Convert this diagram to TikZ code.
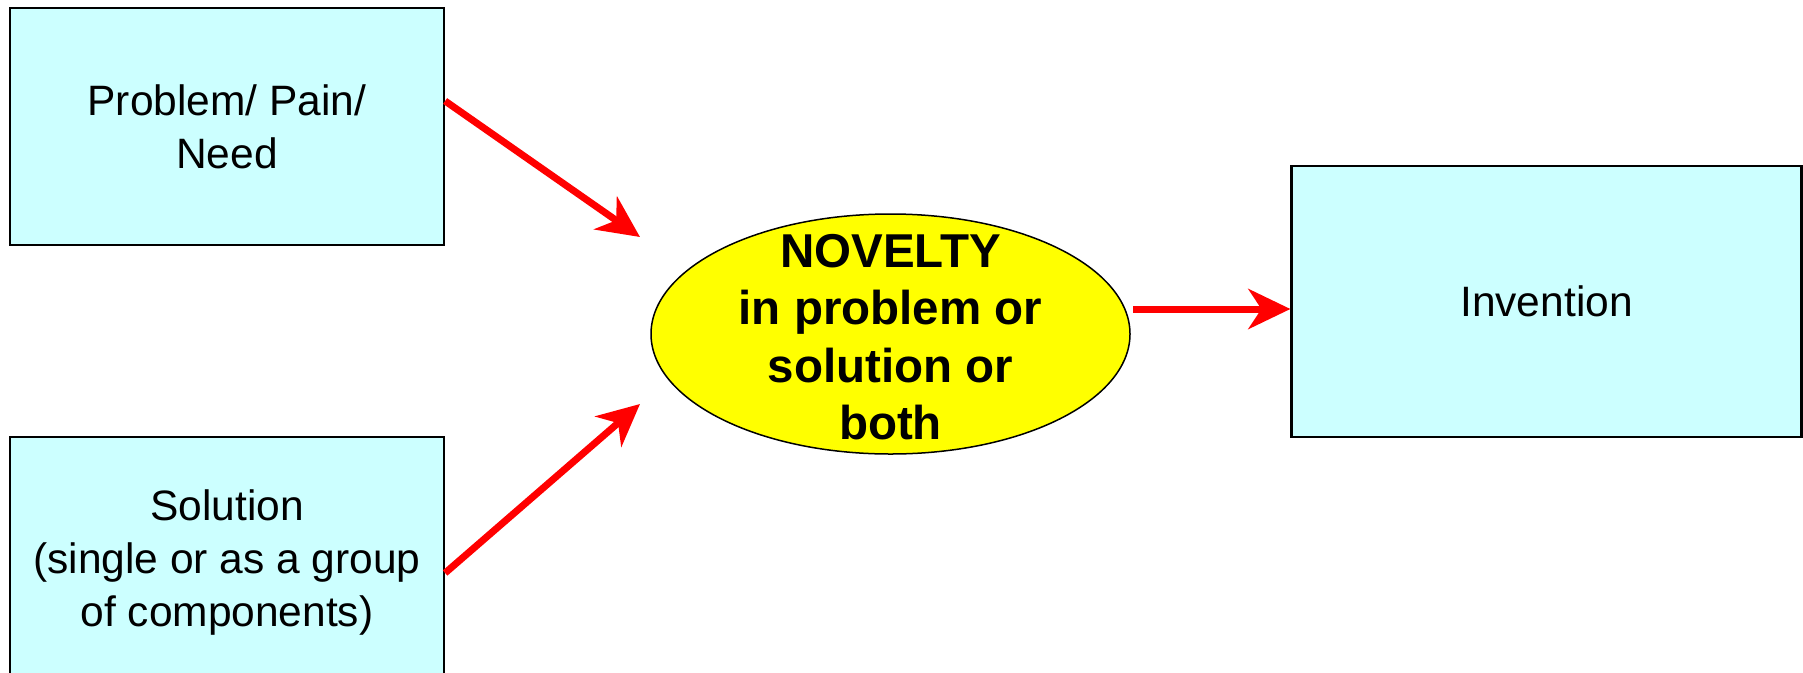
\documentclass[tikz,border=0pt]{standalone}
\usepackage{fontspec}
\setmainfont{Liberation Sans}
\usetikzlibrary{arrows.meta,shapes.geometric,calc}
\definecolor{boxcyan}{HTML}{CCFFFF}
\definecolor{novyellow}{HTML}{FFFF00}
\definecolor{arrred}{HTML}{FF0000}
\begin{document}
\begin{tikzpicture}[x=1pt,y=-1pt,
  box/.style={draw=black,line width=2.2pt,fill=boxcyan,rectangle,inner sep=0pt,
    align=center,font=\fontsize{42.5}{53}\selectfont},
  nov/.style={draw=black,line width=1.5pt,fill=novyellow,ellipse,inner sep=0pt,
    minimum width=479pt,minimum height=240pt},
  novtext/.style={align=center,inner sep=0pt,
    font=\fontsize{47.5}{57.5}\selectfont\bfseries},
  redarrow/.style={draw=arrred,line width=7pt,
    -{Stealth[length=42pt,width=40pt,inset=13pt]}}]
\useasboundingbox (0,0) rectangle (1803,672);
\begin{scope}
\clip (0,0) rectangle (1803,672);
\node[box,minimum width=434pt,minimum height=237pt] (b1) at (227,126.5) {Problem/ Pain/\\Need};
\node[box,minimum width=434pt,minimum height=251pt] (b2) at (227,562.5) {Solution\\(single or as a group\\of components)};
\node[box,minimum width=510pt,minimum height=271pt] (b3) at (1546.5,301.5) {\raisebox{-3pt}{Invention}};
\node[nov] (nv) at (890.5,334) {};
\node[novtext] (nvt) at (890.5,337) {NOVELTY\\in problem or\\solution or\\both};
\end{scope}
\coordinate (t1) at (640,237);
\coordinate (t2) at (640,404);
\coordinate (s3) at (1133,309);
\draw[redarrow] ([yshift=25.5pt]b1.east) -- (t1);
\draw[redarrow] ([yshift=-10.5pt]b2.east) -- (t2);
\draw[redarrow] (s3) -- (s3 -| b3.west);
\end{tikzpicture}
\end{document}
